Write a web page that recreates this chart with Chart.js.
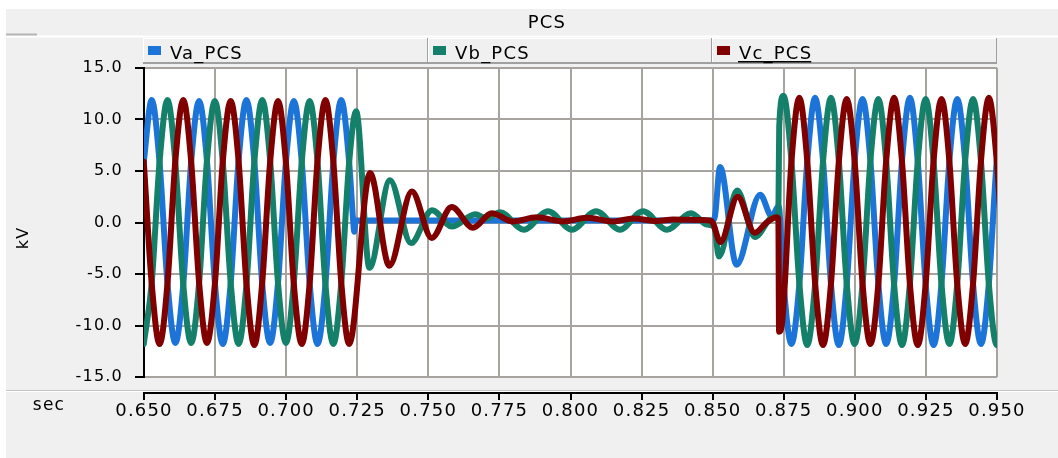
<!DOCTYPE html>
<html>
<head>
<meta charset="utf-8">
<title>PCS</title>
<script src="https://cdn.jsdelivr.net/npm/chart.js@4.4.1/dist/chart.umd.min.js"></script>
<style>
  html, body { margin: 0; padding: 0; background: #f0f0f0; }
  #wrap { width: 1058px; height: 458px; }
</style>
</head>
<body>
<div id="wrap"><canvas id="pcsChart" width="1058" height="458"></canvas></div>
<script>
// --- data ---
const chartTitle = 'PCS';
const xAxisName = 'sec';
const yAxisName = 'kV';
const seriesNames = ['Va_PCS', 'Vb_PCS', 'Vc_PCS'];
const seriesColors = ['#1c74d8', '#14806a', '#800000'];
const xTickValues = [0.650, 0.675, 0.700, 0.725, 0.750, 0.775, 0.800, 0.825, 0.850, 0.875, 0.900, 0.925, 0.950];
const yTickValues = [-15, -10, -5, 0, 5, 10, 15];

// [time (s), kV]
const vaPCS = [
  [0.64992, 5.9], [0.65270, 11.9], [0.65548, 5.8], [0.65826, -5.9], [0.66103, -11.7], [0.66381, -6.0],
  [0.66659, 5.9], [0.66937, 11.8], [0.67214, 6.0], [0.67492, -5.8], [0.67770, -11.8], [0.68048, -5.9],
  [0.68326, 6.0], [0.68603, 11.9], [0.68881, 5.9], [0.69159, -6.0], [0.69437, -11.7], [0.69714, -5.8],
  [0.69992, 5.9], [0.70270, 11.8], [0.70548, 5.9], [0.70826, -5.9], [0.71103, -11.8], [0.71381, -6.0],
  [0.71659, 5.8], [0.71937, 11.9], [0.72214, 5.9], [0.72353, 0.3], [0.72395, -0.9], [0.72450, 0.2],
  [0.85000, 0.2], [0.85080, 0.6], [0.85260, 5.4], [0.85840, -4.1], [0.86670, 2.7], [0.87080, 0.6],
  [0.87320, 1.6], [0.87492, -5.9], [0.87770, -11.8], [0.88048, -6.0], [0.88326, 5.9], [0.88603, 12.1],
  [0.88881, 6.0], [0.89159, -5.9], [0.89437, -11.9], [0.89714, -6.0], [0.89992, 5.9], [0.90270, 12.0],
  [0.90548, 6.0], [0.90826, -5.9], [0.91103, -11.8], [0.91381, -6.0], [0.91659, 6.0], [0.91937, 12.1],
  [0.92214, 5.9], [0.92492, -6.0], [0.92770, -11.9], [0.93048, -5.9], [0.93326, 6.0], [0.93603, 12.0],
  [0.93881, 5.9], [0.94159, -6.0], [0.94437, -11.8], [0.94714, -5.9], [0.94992, 6.0], [0.95270, 12.0]
];

const vbPCS = [
  [0.64992, -11.8], [0.65270, -5.9], [0.65548, 5.9], [0.65826, 11.9], [0.66103, 5.8], [0.66381, -6.0],
  [0.66659, -11.7], [0.66937, -5.9], [0.67214, 6.0], [0.67492, 11.8], [0.67770, 5.9], [0.68048, -5.8],
  [0.68326, -11.8], [0.68603, -6.0], [0.68881, 5.9], [0.69159, 11.9], [0.69437, 6.0], [0.69714, -5.9],
  [0.69992, -11.7], [0.70270, -5.8], [0.70548, 5.9], [0.70826, 11.8], [0.71103, 5.9], [0.71381, -6.0],
  [0.71659, -11.8], [0.71937, -5.9], [0.72214, 5.8], [0.72460, 10.8], [0.72930, -4.4], [0.73650, 4.1],
  [0.74390, -2.0], [0.75130, 1.2], [0.75830, -0.4], [0.76650, 0.8], [0.77050, 0.4], [0.77520, 1.0],
  [0.78360, -0.7], [0.79210, 1.1], [0.80050, -0.7], [0.80900, 1.1], [0.81740, -0.7], [0.82550, 1.1],
  [0.83390, -0.7], [0.84240, 0.9], [0.84800, -0.2], [0.85050, -0.4], [0.85220, -3.3], [0.85860, 3.1],
  [0.86490, -1.4], [0.87120, 0.5], [0.87310, 0.6], [0.87340, 9.3], [0.87492, 12.3], [0.87770, 6.0],
  [0.88048, -5.9], [0.88326, -11.9], [0.88603, -6.0], [0.88881, 5.9], [0.89159, 12.1], [0.89437, 6.0],
  [0.89714, -5.9], [0.89992, -11.8], [0.90270, -6.0], [0.90548, 6.0], [0.90826, 12.0], [0.91103, 5.9],
  [0.91381, -6.0], [0.91659, -11.9], [0.91937, -5.9], [0.92214, 6.0], [0.92492, 12.0], [0.92770, 5.9],
  [0.93048, -6.0], [0.93326, -11.8], [0.93603, -5.9], [0.93881, 6.0], [0.94159, 12.0], [0.94437, 5.9],
  [0.94714, -6.0], [0.94992, -11.9], [0.95270, -5.9]
];

const vcPCS = [
  [0.64992, 5.9], [0.65270, -5.9], [0.65548, -11.8], [0.65826, -5.9], [0.66103, 6.0], [0.66381, 11.9],
  [0.66659, 5.9], [0.66937, -5.8], [0.67214, -11.7], [0.67492, -6.0], [0.67770, 5.9], [0.68048, 11.8],
  [0.68326, 6.0], [0.68603, -5.9], [0.68881, -11.9], [0.69159, -5.8], [0.69437, 5.9], [0.69714, 11.8],
  [0.69992, 5.8], [0.70270, -6.0], [0.70548, -11.8], [0.70826, -5.9], [0.71103, 6.0], [0.71381, 11.9],
  [0.71659, 5.9], [0.71937, -5.8], [0.72214, -11.8], [0.72950, 4.8], [0.73630, -4.2], [0.74420, 3.0],
  [0.75120, -1.5], [0.75820, 1.5], [0.76570, -0.5], [0.77230, 0.9], [0.77980, 0.1], [0.78810, 0.5],
  [0.79740, 0.1], [0.80570, 0.45], [0.81500, 0.1], [0.82200, 0.4], [0.83030, 0.15], [0.83610, 0.3],
  [0.84550, 0.25], [0.84900, 0.2], [0.85000, 0.0], [0.85270, -1.9], [0.85880, 2.5], [0.86480, -1.0],
  [0.86900, 0.0], [0.87250, 0.5], [0.87310, 0.4], [0.87335, -10.6], [0.87440, -9.8], [0.87770, 5.9],
  [0.88048, 12.1], [0.88326, 6.0], [0.88603, -5.9], [0.88881, -11.9], [0.89159, -6.0], [0.89437, 5.9],
  [0.89714, 12.0], [0.89992, 6.0], [0.90270, -5.9], [0.90548, -11.8], [0.90826, -6.0], [0.91103, 6.0],
  [0.91381, 12.1], [0.91659, 5.9], [0.91937, -6.0], [0.92214, -11.9], [0.92492, -5.9], [0.92770, 6.0],
  [0.93048, 12.0], [0.93326, 5.9], [0.93603, -6.0], [0.93881, -11.8], [0.94159, -5.9], [0.94437, 6.0],
  [0.94714, 12.1], [0.94992, 5.9], [0.95270, -6.0]
];

const seriesData = [vaPCS, vbPCS, vcPCS];
const FONT = 'DejaVu Sans';
const GRID = '#a7a39f';

// panel, legend boxes, separate x axis line (PSCAD look)
const pcsFrame = {
  id: 'pcsFrame',
  beforeDraw(chart) {
    const c = chart.ctx, a = chart.chartArea, W = chart.width, H = chart.height;
    c.save();
    c.fillStyle = '#f0f0f0';
    c.fillRect(0, 0, W, H);
    c.fillStyle = '#ffffff';
    c.fillRect(0, 0, W, 9);
    c.fillRect(0, 0, 6, H);
    c.fillRect(6, 35.5, W, 2);
    c.fillStyle = '#b4b4b4';
    c.fillRect(6, 33.5, 31, 2);
    c.fillStyle = '#c4c4c4';
    c.fillRect(6, 390, W, 1);
    c.fillStyle = '#ffffff';
    c.fillRect(6, 391, W, 1);
    c.fillRect(a.left, a.top, a.right - a.left, a.bottom - a.top);
    c.restore();
    c.letterSpacing = '1.2px';
  },
  afterDraw(chart) {
    const c = chart.ctx, a = chart.chartArea, xs = chart.scales.x;
    c.save();
    c.letterSpacing = '1.2px';

    // x axis below the panel
    c.strokeStyle = '#000';
    c.lineWidth = 2;
    c.beginPath();
    c.moveTo(a.left - 1, 393);
    c.lineTo(a.right + 1, 393);
    xs.ticks.forEach(t => {
      const px = Math.round(xs.getPixelForValue(t.value));
      c.moveTo(px, 393);
      c.lineTo(px, 400);
    });
    c.stroke();

    // title
    c.fillStyle = '#000';
    c.font = '18px "' + FONT + '"';
    c.textAlign = 'center';
    c.textBaseline = 'middle';
    c.fillText(chartTitle, 547, 23);

    // axis names
    c.font = '17px "' + FONT + '"';
    c.fillText(xAxisName, 49, 406);
    c.save();
    c.translate(24, 238);
    c.rotate(-Math.PI / 2);
    c.font = '16px "' + FONT + '"';
    c.fillText(yAxisName, 0, 0);
    c.restore();

    // legend boxes
    const bw = (a.right - a.left + 1) / 3;
    const top = 38, bot = 64;
    chart.data.datasets.forEach((ds, i) => {
      const l = Math.round(a.left - 1 + i * bw), r = Math.round(a.left - 1 + (i + 1) * bw);
      c.fillStyle = '#f0f0f0';
      c.fillRect(l, top, r - l, bot - top);
      c.fillStyle = '#ffffff';
      c.fillRect(l, top, r - l, 1);
      c.fillRect(l, top, 1, bot - top);
      c.fillStyle = '#a0a0a0';
      c.fillRect(l, bot - 2, r - l, 2);
      c.fillRect(r - 1, top, 1, bot - top);
      c.fillStyle = ds.borderColor;
      c.fillRect(l + 5, 46, 13, 9);
      c.fillStyle = '#000';
      c.font = '18px "' + FONT + '"';
      c.textAlign = 'left';
      c.textBaseline = 'alphabetic';
      c.fillText(ds.label, l + 27, 58.5);
      if (i === 2) {
        const w = c.measureText(ds.label).width;
        c.fillRect(l + 26, 61, w, 1.5);
      }
    });
    c.restore();
  }
};

new Chart(document.getElementById('pcsChart'), {
  type: 'line',
  data: {
    datasets: seriesData.map((pts, i) => ({
      label: seriesNames[i],
      data: pts.map(([x, y]) => ({ x, y })),
      borderColor: seriesColors[i],
      backgroundColor: seriesColors[i],
      borderWidth: 6,
      borderJoinStyle: 'round',
      borderCapStyle: 'round',
      pointRadius: 0,
      cubicInterpolationMode: 'monotone',
      clip: 0,
      order: 3 - i
    }))
  },
  options: {
    responsive: false,
    animation: false,
    devicePixelRatio: 1,
    events: [],
    layout: { padding: { left: 0, right: 61, top: 68, bottom: 0 } },
    plugins: { legend: { display: false }, title: { display: false }, tooltip: { enabled: false } },
    scales: {
      x: {
        type: 'linear',
        min: 0.65,
        max: 0.95,
        afterBuildTicks: s => { s.ticks = xTickValues.map(v => ({ value: v })); },
        afterFit: s => { s.height = 81; },
        border: { display: false },
        grid: { color: GRID, lineWidth: 2, drawTicks: false },
        ticks: {
          autoSkip: false,
          maxRotation: 0,
          padding: 24,
          color: '#000',
          font: { family: FONT, size: 18 },
          callback: v => v.toFixed(3)
        }
      },
      y: {
        min: -15,
        max: 15,
        afterBuildTicks: s => { s.ticks = yTickValues.map(v => ({ value: v })); },
        afterFit: s => { s.width = 144; },
        border: { display: true, color: '#000', width: 2 },
        grid: { color: GRID, lineWidth: 2, tickColor: '#000', tickLength: 9, tickWidth: 2 },
        ticks: {
          padding: 12,
          color: '#000',
          font: { family: FONT, size: 16 },
          callback: v => v.toFixed(1)
        }
      }
    }
  },
  plugins: [pcsFrame]
});
</script>
</body>
</html>
